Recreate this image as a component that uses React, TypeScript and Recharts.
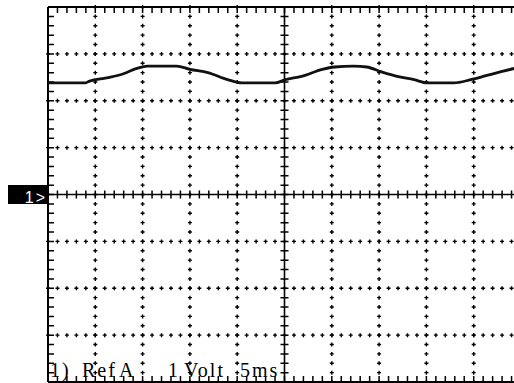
import React from 'react';
import { LineChart, Line, XAxis, YAxis, ReferenceLine } from 'recharts';

// time in ms (5 ms/div), voltage in V (1 V/div)
const times = [0, 3.9, 4.4, 6.2, 7.9, 9.4, 10.5, 13.6, 15.0, 16.9, 19.0, 20.5, 24.0, 25.1, 26.8, 29.0, 30.3, 32.3, 33.7, 35.2, 36.9, 38.7, 40.1, 42.9, 44.7, 46.4, 47.9, 49.3, 50];
const volts = [2.38, 2.38, 2.42, 2.49, 2.57, 2.69, 2.74, 2.74, 2.67, 2.6, 2.45, 2.38, 2.38, 2.45, 2.52, 2.67, 2.72, 2.74, 2.72, 2.62, 2.52, 2.45, 2.38, 2.38, 2.45, 2.54, 2.62, 2.69, 2.72];

const xTicks = [0, 5, 10, 15, 20, 25, 30, 35, 40, 45, 50];
const yTicks = [-4, -3, -2, -1, 0, 1, 2, 3, 4];

const channelLabel = '1>';
const footer = [
  { text: '1)', dx: 2 },
  { text: 'Ref', dx: 34 },
  { text: 'A', dx: 71 },
  { text: '1', dx: 120 },
  { text: 'Volt', dx: 136 },
  { text: '5', dx: 192 },
  { text: 'ms', dx: 204 },
];

const data = times.map((t, i) => ({ t, v: volts[i] }));

type Kind = 'dots' | 'axis' | 'left' | 'right' | 'top' | 'bottom';

const GridLine = (props: any) => {
  const { x1, y1, x2, y2, kind, marker, label } = props;
  const horiz = Math.abs(y2 - y1) < 0.5;
  const a = horiz ? Math.min(x1, x2) : Math.min(y1, y2);
  const b = horiz ? Math.max(x1, x2) : Math.max(y1, y2);
  const n = horiz ? 50 : 40;
  const step = (b - a) / n;
  const c = horiz ? y1 : x1;
  let d = '';
  for (let i = 0; i <= n; i++) {
    const p = a + i * step;
    if (kind === 'dots') {
      d += horiz ? `M${p - 2},${c}h4M${p},${c - 2}v4` : `M${c - 2},${p}h4M${c},${p - 2}v4`;
    } else if (kind === 'axis') {
      d += horiz ? `M${p},${c - 4}v8` : `M${c - 4},${p}h8`;
    } else if (kind === 'top') {
      d += `M${p},${c}v6`;
    } else if (kind === 'bottom') {
      d += `M${p},${c}v-6`;
    } else if (kind === 'left') {
      d += `M${c},${p}h6`;
    }
  }
  const solid = kind !== 'dots';
  return (
    <g>
      {solid && <line x1={x1} y1={y1} x2={x2} y2={y2} stroke="#000" strokeWidth={kind === 'axis' ? 1.6 : 2} />}
      <path d={d} stroke="#000" strokeWidth={kind === 'dots' ? 1.4 : 1.5} fill="none" />
      {marker && (
        <g>
          <rect x={a - 40} y={c - 9.5} width={40} height={19} fill="#000" />
          <text x={a - 1} y={c + 8} textAnchor="end" fill="#fff" fontSize={16} fontFamily="'Liberation Sans', sans-serif" letterSpacing={2}>
            {channelLabel}
          </text>
        </g>
      )}
      {label &&
        footer.map((w) => (
          <text key={w.text + w.dx} x={a + w.dx} y={c - 5} fontSize={20} fontFamily="'Liberation Serif', serif" fill="#000" letterSpacing={2}>
            {w.text}
          </text>
        ))}
    </g>
  );
};

const xKind = (t: number): Kind => (t === 0 ? 'left' : t === 25 ? 'axis' : t === 50 ? 'right' : 'dots');
const yKind = (v: number): Kind => (v === 4 ? 'top' : v === -4 ? 'bottom' : v === 0 ? 'axis' : 'dots');

export default function App() {
  return (
    <div style={{ position: 'fixed', left: 0, top: 0, width: 514, height: 383, overflow: 'hidden', background: '#fff' }}>
      <LineChart width={530} height={390} data={data} margin={{ top: 7, right: 9, bottom: 8, left: 48 }}>
        <XAxis dataKey="t" type="number" domain={[0, 50]} ticks={xTicks} hide />
        <YAxis type="number" domain={[-4, 4]} ticks={yTicks} hide />
        {xTicks.map((t) => (
          <ReferenceLine key={'x' + t} x={t} shape={(p: any) => <GridLine {...p} kind={xKind(t)} />} />
        ))}
        {yTicks.map((v) => (
          <ReferenceLine
            key={'y' + v}
            y={v}
            shape={(p: any) => <GridLine {...p} kind={yKind(v)} marker={v === 0} label={v === -4} />}
          />
        ))}
        <Line dataKey="v" type="monotone" stroke="#111" strokeWidth={2.8} dot={false} isAnimationActive={false} />
      </LineChart>
    </div>
  );
}
